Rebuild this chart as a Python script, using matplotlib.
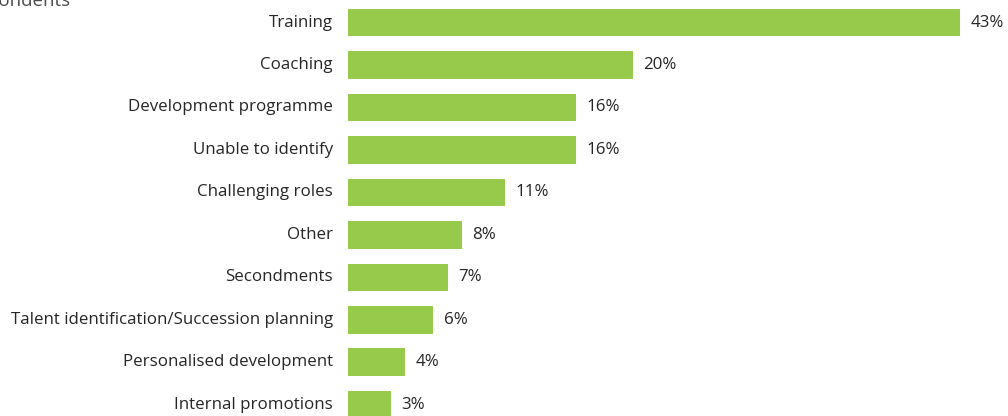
import matplotlib
matplotlib.use("Agg")
from matplotlib import pyplot as plt

labels = ["Training", "Coaching", "Development programme", "Unable to identify",
          "Challenging roles", "Other", "Secondments",
          "Talent identification/Succession planning", "Personalised development",
          "Internal promotions"]
values = [43, 20, 16, 16, 11, 8, 7, 6, 4, 3]

plt.rcParams['font.family'] = ['Open Sans', 'DejaVu Sans']

fig = plt.figure(figsize=(10.08, 4.16), dpi=100)
ax = fig.add_axes([348 / 1008, 0, 660 / 1008, 1])

pos = list(range(len(values)))
ax.barh(pos, values, height=0.65, color='#97CA4B')
ax.set_xlim(0, 660 / 14.23)
ax.set_ylim(9.265, -0.530)

for p, v, lab in zip(pos, values, labels):
    ax.text(v + 0.75, p, f"{v}%", va='center', ha='left', fontsize=12.2, color='#262626')
    ax.text(-1.05, p, lab, va='center', ha='right', fontsize=12.2, color='#262626')

ax.axis('off')

fig.text(70 / 1008, 1 - 1 / 416, "% of respondents", ha='right', va='center',
         fontsize=13.5, color='#4d4d4d')

fig.savefig("out.png", dpi=100)
